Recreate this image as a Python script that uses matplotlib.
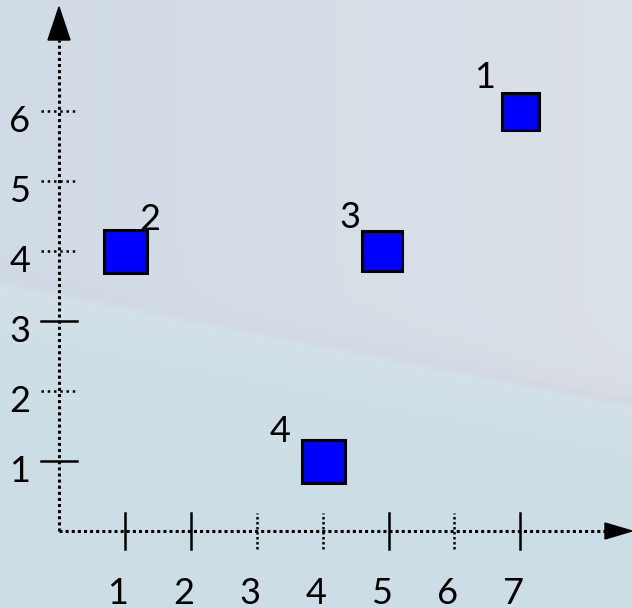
import numpy as np
import matplotlib
matplotlib.use("Agg")
import matplotlib.pyplot as plt
from matplotlib.patches import Polygon

# datos de los puntos
etiquetas = ["1", "2", "3", "4"]
xs = [7, 1, 4.9, 4]
ys = [6, 4, 4, 1]
x_ticks = [1, 2, 3, 4, 5, 6, 7]
y_ticks = [1, 2, 3, 4, 5, 6]

# estilo (tamaños en px, desplazamientos de las etiquetas en px)
tam_px = [37, 43, 40, 43]
desplaz = [(-36, 34), (25, 32), (-32, 34), (-43, 30)]
x_solidos = [1, 2, 5, 7]
y_solidos = [1, 3]

W, H, DPI = 632, 608, 100
X0, Y0 = 59, 531          # origen en pixeles
SX, SY = 65.9, 70.0       # pixeles por unidad

fuente = ["Lato", "DejaVu Sans"]


def fondo():
    yy, xx = np.mgrid[0:H, 0:W].astype(float)
    # linea diagonal que separa las dos zonas
    borde = 283 + (405 - 283) * xx / W
    d = yy - borde
    t = (xx / W)[..., None]
    # zona de arriba
    sup = np.array([0.82, 0.86, 0.90]) * (1 - t) + np.array([0.86, 0.88, 0.91]) * t
    sombra = np.exp(-np.clip(-d, 0, None) / 15.0)[..., None] * (0.3 + 0.7 * t)
    sup = sup * (1 - 0.5 * sombra) + np.array([0.79, 0.80, 0.85]) * 0.5 * sombra
    # zona de abajo
    luz = np.exp(-np.clip(d, 0, None) / 60.0)[..., None]
    inf = np.array([0.80, 0.87, 0.90]) * (1 - luz) + np.array([0.83, 0.88, 0.91]) * luz
    mezcla = np.clip((d + 4) / 8, 0, 1)[..., None]
    img = sup * (1 - mezcla) + inf * mezcla
    return np.clip(img, 0, 1)


def f_principal():
    fig = plt.figure(figsize=(W / DPI, H / DPI), dpi=DPI)
    ax = fig.add_axes([0, 0, 1, 1])
    xmin, xmax = -X0 / SX, (W - X0) / SX
    ymin, ymax = (Y0 - H) / SY, Y0 / SY
    ax.imshow(fondo(), extent=[xmin, xmax, ymin, ymax], aspect="auto", zorder=0)
    ax.set_xlim(xmin, xmax)
    ax.set_ylim(ymin, ymax)
    ax.axis("off")

    px = 1 / SX
    py = 1 / SY
    # ejes punteados
    ax.plot([0, 0], [0, (Y0 - 40) * py], color="black", lw=2.2, dashes=(1, 1), zorder=2)
    ax.plot([0, (607 - X0) * px], [0, 0], color="black", lw=2.2, dashes=(1, 1), zorder=2)
    # flechas
    ax.add_patch(Polygon([[-11 * px, (Y0 - 40) * py], [11 * px, (Y0 - 40) * py],
                          [0, (Y0 - 7) * py]], closed=True, color="black", zorder=3))
    ax.add_patch(Polygon([[(605 - X0) * px, 8 * py], [(605 - X0) * px, -8 * py],
                          [(W - X0) * px, 0]], closed=True, color="black", zorder=3))

    # marcas de los ejes
    for v in x_ticks:
        estilo = "-" if v in x_solidos else (0, (1, 1))
        ax.plot([v, v], [-18 * py, 18 * py], color="black", lw=1.8, linestyle=estilo, zorder=2)
        ax.text(v - 7 * px, (Y0 - 593) * py, str(v), ha="center", va="center",
                fontsize=26, family=fuente)
    for v in y_ticks:
        estilo = "-" if v in y_solidos else (0, (1, 1.5))
        ax.plot([-18 * px, 18 * px], [v, v], color="black", lw=1.8, linestyle=estilo, zorder=2)
        ax.text((20 - X0) * px, v - 10 * py, str(v), ha="center", va="center",
                fontsize=26, family=fuente)

    # puntos y etiquetas
    for x, y, lab, s, (dx, dy) in zip(xs, ys, etiquetas, tam_px, desplaz):
        ax.plot(x, y, marker="s", markersize=s * 72 / DPI, markerfacecolor="#0000ff",
                markeredgecolor="black", markeredgewidth=2.2, zorder=4)
        ax.annotate(lab, (x, y), xytext=(dx, dy), textcoords="offset pixels",
                    ha="center", va="center", fontsize=26, family=fuente, zorder=5)

    plt.savefig("out.png", dpi=DPI)


if __name__ == '__main__':
    f_principal()
